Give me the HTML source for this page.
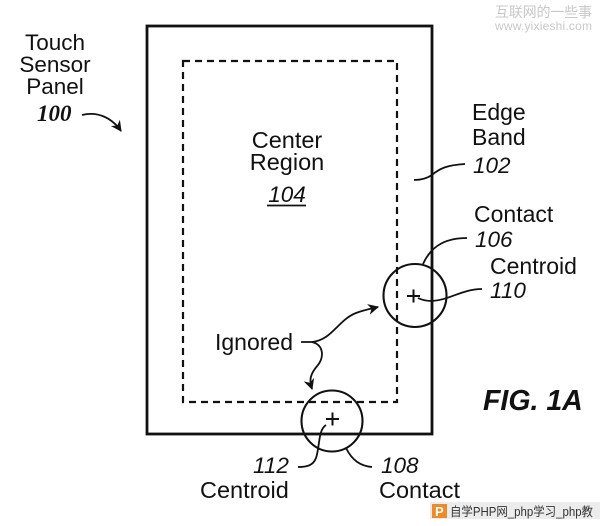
<!DOCTYPE html>
<html>
<head>
<meta charset="utf-8">
<style>
html,body{margin:0;padding:0;background:#fff;}
svg{display:block;}
text{font-family:"Liberation Sans","Noto Sans CJK SC",sans-serif;fill:#111;}
.it{font-style:italic;}
</style>
</head>
<body>
<svg width="600" height="526" viewBox="0 0 600 526" xmlns="http://www.w3.org/2000/svg">
  <defs>
    <marker id="ah" viewBox="0 0 10 10" refX="9" refY="5" markerWidth="12" markerHeight="11" orient="auto" markerUnits="userSpaceOnUse">
      <path d="M0,0 L10,5 L0,10 L3,5 Z" fill="#111"/>
    </marker>
  </defs>

  <!-- outer panel -->
  <rect x="147" y="26" width="285" height="408" fill="none" stroke="#111" stroke-width="2.8"/>
  <!-- dashed center region -->
  <rect x="183" y="61" width="214" height="341" fill="none" stroke="#111" stroke-width="2.2" stroke-dasharray="7 5"/>

  <!-- contacts -->
  <circle cx="415" cy="295.5" r="31.5" fill="none" stroke="#111" stroke-width="2.1"/>
  <circle cx="332" cy="421" r="30.5" fill="none" stroke="#111" stroke-width="2.1"/>
  <!-- centroids -->
  <path d="M407,296 H420 M413.5,289.5 V302.5" stroke="#111" stroke-width="2"/>
  <path d="M326,419 H339 M332.5,412.5 V425.5" stroke="#111" stroke-width="2"/>

  <!-- Touch sensor panel label -->
  <text x="55" y="50" font-size="22.5" text-anchor="middle">Touch</text>
  <text x="55" y="72" font-size="22.5" text-anchor="middle">Sensor</text>
  <text x="55" y="94" font-size="22.5" text-anchor="middle">Panel</text>
  <text x="37" y="121" font-size="23" font-weight="bold" font-style="italic" style="font-family:'Liberation Serif',serif">100</text>
  <path d="M82,115 C98,111 112,118 121,131" fill="none" stroke="#111" stroke-width="1.8" marker-end="url(#ah)"/>

  <!-- center region label -->
  <text x="287" y="148" font-size="23.5" text-anchor="middle">Center</text>
  <text x="287" y="170" font-size="23.5" text-anchor="middle">Region</text>
  <text x="287" y="202" font-size="22.5" class="it" text-anchor="middle">104</text>
  <line x1="267" y1="205.5" x2="306" y2="205.5" stroke="#111" stroke-width="1.8"/>

  <!-- Edge band -->
  <text x="472" y="120" font-size="23">Edge</text>
  <text x="472" y="145" font-size="23">Band</text>
  <text x="473" y="173" font-size="22.5" class="it">102</text>
  <path d="M465,164 C448,165 440,168 432,175 C426,179 420,180 414,180" fill="none" stroke="#111" stroke-width="1.8"/>

  <!-- Contact 106 -->
  <text x="474" y="222" font-size="23">Contact</text>
  <text x="475" y="247" font-size="22.5" class="it">106</text>
  <path d="M467,238 C448,238 432,244 423,264" fill="none" stroke="#111" stroke-width="1.8"/>

  <!-- Centroid 110 -->
  <text x="490" y="274" font-size="23">Centroid</text>
  <text x="490" y="298" font-size="22.5" class="it">110</text>
  <path d="M482,289 C462,289 450,300 432,301 C426,301 422,300 418,298" fill="none" stroke="#111" stroke-width="1.8"/>

  <!-- Ignored -->
  <text x="215" y="350" font-size="23">Ignored</text>
  <path d="M301,342 L312,342 C332,340 338,320 356,313 C364,310 370,309 378,307" fill="none" stroke="#111" stroke-width="1.8" marker-end="url(#ah)"/>
  <path d="M312,342 C324,345 324,357 318,365 C310,374 309,380 312,389" fill="none" stroke="#111" stroke-width="1.8" marker-end="url(#ah)"/>

  <!-- Centroid 112 / Contact 108 -->
  <text x="253" y="473" font-size="22.5" class="it">112</text>
  <path d="M298,467 C306,467 313,466 316,458 C320,446 318,430 326,425" fill="none" stroke="#111" stroke-width="1.8"/>
  <text x="200" y="498" font-size="23.5">Centroid</text>
  <text x="381" y="473" font-size="22.5" class="it">108</text>
  <path d="M372,467 C360,466 352,460 346,448" fill="none" stroke="#111" stroke-width="1.8"/>
  <text x="379" y="498" font-size="23.5">Contact</text>

  <!-- figure label -->
  <text x="483" y="410" font-size="28.5" font-weight="bold" font-style="italic">FIG. 1A</text>

  <!-- watermarks -->
  <text x="495" y="17" font-size="14" style="fill:#c8c8c8;font-family:'Noto Sans CJK SC',sans-serif" textLength="97">互联网的一些事</text>
  <text x="495" y="30" font-size="12" style="fill:#c8c8c8" textLength="97">www.yixieshi.com</text>

  <rect x="430" y="502" width="170" height="17" fill="#ececec"/>
  <rect x="432" y="504" width="15" height="14" fill="#f08a24"/>
  <text x="435" y="516" font-size="13" font-weight="bold" style="fill:#fff">P</text>
  <text x="450" y="516" font-size="12.5" textLength="143" lengthAdjust="spacingAndGlyphs" style="fill:#333;font-family:'Liberation Sans','Noto Sans CJK SC',sans-serif">自学PHP网_php学习_php教</text>
</svg>
</body>
</html>
